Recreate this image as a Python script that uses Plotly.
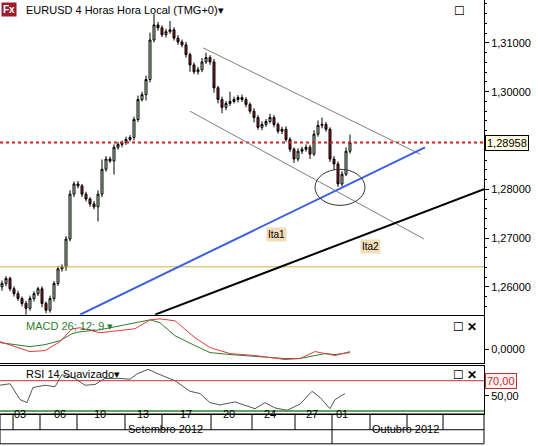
import plotly.graph_objects as go

# 4h candles, EURUSD, 31 Aug - 01 Oct 2012 (closes)
CLOSES = [
    1.2607, 1.2617, 1.2596, 1.2586, 1.2576, 1.2566, 1.2556, 1.2576, 1.2586, 1.2596,
    1.2566, 1.2552, 1.2576, 1.2607, 1.2637, 1.2641, 1.2698, 1.2790, 1.2811, 1.2807,
    1.2790, 1.2780, 1.2770, 1.2764, 1.2790, 1.2841, 1.2862, 1.2858, 1.2886, 1.2892,
    1.2896, 1.2902, 1.2906, 1.2943, 1.2984, 1.2994, 1.3025, 1.3106, 1.3137, 1.3131,
    1.3117, 1.3123, 1.3127, 1.3110, 1.3102, 1.3096, 1.3076, 1.3055, 1.3041, 1.3045,
    1.3061, 1.3070, 1.3061, 1.3008, 1.2984, 1.2968, 1.2976, 1.2980, 1.2984, 1.2988,
    1.2984, 1.2974, 1.2960, 1.2947, 1.2927, 1.2933, 1.2939, 1.2947, 1.2933, 1.2919,
    1.2923, 1.2902, 1.2882, 1.2862, 1.2878, 1.2882, 1.2886, 1.2872, 1.2913, 1.2931,
    1.2933, 1.2923, 1.2862, 1.2852, 1.2811, 1.2831, 1.2878, 1.2896,
]
FIRST_OPEN = 1.2600
# wick lengths in pips above / below the body
WICK_UP = [
    6, 5, 4, 5, 6, 4, 5, 6, 5, 4, 5, 4, 6, 5, 6, 5, 6, 8, 5, 6,
    4, 5, 4, 6, 8, 20, 6, 5, 6, 5, 4, 6, 5, 6, 8, 6, 8, 15, 22, 6,
    5, 6, 18, 5, 6, 5, 6, 4, 5, 6, 8, 10, 5, 6, 4, 6, 5, 20, 6, 5,
    6, 5, 4, 6, 5, 6, 5, 8, 5, 4, 5, 6, 5, 4, 6, 5, 6, 5, 8, 10,
    14, 5, 4, 6, 5, 6, 8, 16,
]
WICK_DN = [
    8, 6, 5, 6, 5, 6, 20, 5, 6, 5, 8, 6, 5, 6, 5, 6, 8, 5, 6, 5,
    6, 5, 6, 5, 30, 6, 5, 4, 28, 5, 6, 5, 4, 6, 5, 4, 12, 6, 5, 6,
    5, 6, 4, 5, 6, 5, 6, 14, 5, 6, 5, 4, 6, 10, 8, 12, 6, 5, 4, 6,
    5, 6, 5, 10, 5, 6, 5, 4, 6, 5, 6, 5, 6, 8, 5, 6, 5, 10, 4, 5,
    6, 5, 6, 12, 6, 5, 4, 5,
]

LAST_PRICE = 1.28958
SUPPORT_LEVEL = 1.2641

# hand-drawn lines: (x0, y0, x1, y1) in candle index / price
CHANNEL_UP = (50.25, 1.3090, 104.5, 1.2872)
CHANNEL_DN = (47, 1.2960, 105.5, 1.2698)
TREND_ITA1 = (19.5, 1.2543, 105.75, 1.2886)
TREND_ITA2 = (38.25, 1.2543, 120.5, 1.2800)
ELLIPSE = (78.25, 1.2767, 90.75, 1.2841)

MACD_X = [-0.5, 7, 10.75, 14.5, 17.5, 19.5, 24.5, 33.25, 37, 39.5, 43.25, 48.25, 52, 57, 63.25, 70.75, 74.5, 78.25, 80.75, 83.25, 87]
MACD_LINE = [0.0008, -0.0002, -0.0001, 0.0008, 0.0021, 0.0022, 0.0017, 0.0021, 0.0030, 0.0031, 0.0029, 0.0012, 0.0002, -0.0004, -0.0006, -0.0010, -0.0009, -0.0002, -0.0004, -0.0006, -0.0002]
SIGNAL_LINE = [0.0007, 0.0003, 0.0005, 0.0009, 0.0016, 0.0018, 0.0020, 0.0027, 0.0030, 0.0027, 0.0014, 0.0004, -0.0003, -0.0005, -0.0007, -0.0009, -0.0009, -0.0006, -0.0004, -0.0005, -0.0003]

RSI_X = [-0.5, 2, 4.5, 6.25, 7.75, 10.75, 13.25, 15, 18.25, 20.75, 23.25, 25.75, 29.5, 32, 33.75, 36.5, 39.5, 43.25, 47, 49.5, 52, 54.5, 58.25, 60.75, 63.25, 65.75, 68.25, 71.25, 74.5, 77.5, 79.5, 82, 83.25, 85.75]
RSI_VALS = [64, 66, 45, 41, 61, 64, 62, 78, 73, 64, 65, 73, 73, 72, 79, 85, 78, 70, 56, 53, 41, 38, 42, 38, 33, 41, 34, 31, 39, 56, 48, 33, 45, 53]

DAY_SEPS = [2.75, 9.5, 18.75, 30.75, 40, 52.25, 62.5, 73.25, 82.5, 92, 101.25, 110.25]
DAY_LABELS = ["03", "06", "10", "13", "17", "20", "24", "27", "01"]
DAY_POS = [4.5, 14.5, 24.5, 35.25, 46, 56.75, 67, 77.5, 85]
MONTH_LABELS = ["Setembro 2012", "Outubro 2012"]
MONTH_POS = [40.75, 100.75]
MONTH_SEP = 82.5

idx = list(range(len(CLOSES)))
opens = [FIRST_OPEN] + CLOSES[:-1]
highs = [max(o, c) + w * 1e-4 for o, c, w in zip(opens, CLOSES, WICK_UP)]
lows = [min(o, c) - w * 1e-4 for o, c, w in zip(opens, CLOSES, WICK_DN)]

FONT = "Arial, Liberation Sans, sans-serif"
XR = [-0.5, 120.5]

fig = go.Figure()
fig.add_trace(go.Candlestick(
    x=idx, open=opens, high=highs, low=lows, close=CLOSES,
    increasing=dict(line=dict(color="#000000", width=1), fillcolor="#bfe3bf"),
    decreasing=dict(line=dict(color="#000000", width=1), fillcolor="#9c1c1c"),
    whiskerwidth=0, showlegend=False, xaxis="x", yaxis="y",
))
fig.add_trace(go.Scatter(x=MACD_X, y=SIGNAL_LINE, mode="lines", line=dict(color="#2e7d2e", width=1),
                         showlegend=False, xaxis="x2", yaxis="y2"))
fig.add_trace(go.Scatter(x=MACD_X, y=MACD_LINE, mode="lines", line=dict(color="#e03c3c", width=1),
                         showlegend=False, xaxis="x2", yaxis="y2"))
fig.add_trace(go.Scatter(x=RSI_X, y=RSI_VALS, mode="lines", line=dict(color="#555555", width=1),
                         showlegend=False, xaxis="x3", yaxis="y3"))

shapes = []
def seg(p, color, width):
    shapes.append(dict(type="line", xref="x", yref="y", x0=p[0], y0=p[1], x1=p[2], y1=p[3],
                       line=dict(color=color, width=width)))

shapes.append(dict(type="line", xref="paper", yref="y", x0=0, x1=1, y0=SUPPORT_LEVEL, y1=SUPPORT_LEVEL,
                   line=dict(color="#c8b440", width=1)))
shapes.append(dict(type="line", xref="paper", yref="y", x0=0, x1=1, y0=LAST_PRICE, y1=LAST_PRICE,
                   line=dict(color="#d42020", width=2, dash="dot")))
seg(CHANNEL_UP, "#808080", 1)
seg(CHANNEL_DN, "#808080", 1)
seg(TREND_ITA1, "#3a5fe0", 2)
seg(TREND_ITA2, "#000000", 2)
shapes.append(dict(type="circle", xref="x", yref="y", x0=ELLIPSE[0], y0=ELLIPSE[1], x1=ELLIPSE[2], y1=ELLIPSE[3],
                   line=dict(color="#333333", width=1)))
shapes.append(dict(type="line", xref="paper", yref="y3", x0=0, x1=1, y0=70, y1=70, line=dict(color="#c03030", width=1)))
shapes.append(dict(type="line", xref="paper", yref="y3", x0=0, x1=1, y0=30, y1=30, line=dict(color="#2a8a2a", width=1.5)))

# date band below the panels
shapes.append(dict(type="line", xref="paper", yref="paper", x0=0, x1=1, y0=-0.038, y1=-0.038, line=dict(color="#000", width=1)))
shapes.append(dict(type="rect", xref="paper", yref="paper", x0=0, x1=1, y0=-0.072, y1=0, line=dict(color="#000", width=1)))
for s in DAY_SEPS:
    shapes.append(dict(type="line", xref="x3", yref="paper", x0=s, x1=s, y0=-0.038, y1=0, line=dict(color="#000", width=1)))
shapes.append(dict(type="line", xref="x3", yref="paper", x0=MONTH_SEP, x1=MONTH_SEP, y0=-0.072, y1=-0.038,
                   line=dict(color="#000", width=1)))

anns = []
for lab, pos in zip(DAY_LABELS, DAY_POS):
    anns.append(dict(x=pos, y=-0.019, xref="x3", yref="paper", text=lab, showarrow=False,
                     font=dict(size=11, color="#000")))
for lab, pos in zip(MONTH_LABELS, MONTH_POS):
    anns.append(dict(x=pos, y=-0.055, xref="x3", yref="paper", text=lab, showarrow=False,
                     font=dict(size=11, color="#000")))
anns += [
    dict(x=0.05, y=0.995, xref="paper", yref="paper", xanchor="left", yanchor="top", showarrow=False,
         text="EURUSD 4 Horas Hora Local (TMG+0)▾", font=dict(size=11, color="#000")),
    dict(x=0.003, y=0.995, xref="paper", yref="paper", xanchor="left", yanchor="top", showarrow=False,
         text="<b>Fx</b>", bgcolor="#9c1c2c", font=dict(size=10, color="#fff"), borderpad=1),
    dict(x=0.05, y=0.232, xref="paper", yref="paper", xanchor="left", yanchor="top", showarrow=False,
         text="MACD 26; 12; 9 ▾", font=dict(size=11, color="#2e7d2e")),
    dict(x=0.05, y=0.115, xref="paper", yref="paper", xanchor="left", yanchor="top", showarrow=False,
         text="RSI 14 Suavizado▾", font=dict(size=11, color="#000")),
    dict(x=0.99, y=0.232, xref="paper", yref="paper", xanchor="right", yanchor="top", showarrow=False,
         text="☐ <b>✕</b>", font=dict(size=12, color="#000")),
    dict(x=0.99, y=0.115, xref="paper", yref="paper", xanchor="right", yanchor="top", showarrow=False,
         text="☐ <b>✕</b>", font=dict(size=12, color="#000")),
    dict(x=0.965, y=0.995, xref="paper", yref="paper", xanchor="right", yanchor="top", showarrow=False,
         text="☐", font=dict(size=12, color="#000")),
    dict(x=68.5, y=1.2707, xref="x", yref="y", text="Ita1", showarrow=False, bgcolor="#f3dcb8",
         font=dict(size=10, color="#000")),
    dict(x=92, y=1.2683, xref="x", yref="y", text="Ita2", showarrow=False, bgcolor="#f3dcb8",
         font=dict(size=10, color="#000")),
    dict(x=1.003, y=LAST_PRICE, xref="paper", yref="y", xanchor="left", text="1,28958", showarrow=False,
         bgcolor="#fffbe0", bordercolor="#000", borderwidth=1, font=dict(size=11, color="#000")),
    dict(x=1.003, y=70, xref="paper", yref="y3", xanchor="left", text="70,00", showarrow=False,
         bgcolor="#fff0f0", bordercolor="#c03030", borderwidth=1, font=dict(size=11, color="#c03030")),
]

ax_common = dict(showline=True, linecolor="#000", linewidth=1, mirror=True, zeroline=False)
xcommon = dict(range=XR, showticklabels=False, ticks="", showgrid=False, **ax_common)
ycommon = dict(side="right", ticks="outside", ticklen=4, tickcolor="#000", showgrid=False,
               tickfont=dict(size=11, color="#000"), automargin=False, **ax_common)

fig.update_layout(
    width=538, height=446,
    margin=dict(l=0, r=54, t=0, b=32, autoexpand=False),
    paper_bgcolor="white", plot_bgcolor="white",
    font=dict(family=FONT, size=11, color="#000"),
    showlegend=False,
    xaxis=dict(domain=[0, 1], anchor="y", rangeslider=dict(visible=False), **xcommon),
    xaxis2=dict(domain=[0, 1], anchor="y2", matches="x", **xcommon),
    xaxis3=dict(domain=[0, 1], anchor="y3", matches="x", **xcommon),
    yaxis=dict(domain=[0.24, 1], range=[1.2543, 1.3188],
               tickvals=[1.26, 1.27, 1.28, 1.30, 1.31],
               ticktext=["1,26000", "1,27000", "1,28000", "1,30000", "1,31000"],
               minor=dict(dtick=0.002, ticks="outside", ticklen=2, tickcolor="#000"), **ycommon),
    yaxis2=dict(domain=[0.122, 0.237], range=[-0.0014, 0.0034],
                tickvals=[0], ticktext=["0,0000"], **ycommon),
    yaxis3=dict(domain=[0, 0.117], range=[26, 90],
                tickvals=[50], ticktext=["50,00"], **ycommon),
    shapes=shapes, annotations=anns,
)

fig.write_html("out.html", config={"displayModeBar": False},
               post_script="document.body.style.margin='0';")
